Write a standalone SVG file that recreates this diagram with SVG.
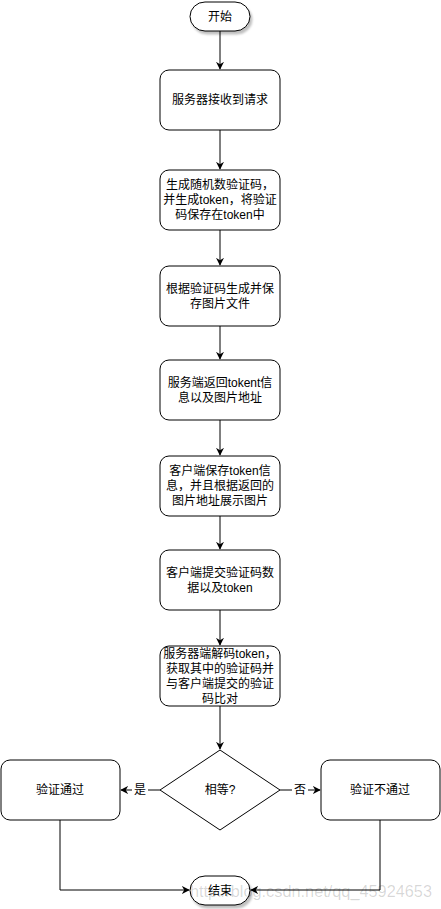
<svg xmlns="http://www.w3.org/2000/svg" width="441" height="909" viewBox="0 0 441 909">
<style>
.n{fill:#fff;stroke:#000;stroke-width:1}
.t{font-family:"Liberation Sans","Noto Sans CJK SC",sans-serif;font-size:12px;fill:#000;text-anchor:middle;dominant-baseline:central}
.e{fill:none;stroke:#000;stroke-width:1}
.wm{font-family:"Liberation Sans",sans-serif;font-size:17px;fill:#000;fill-opacity:0.16;dominant-baseline:central}
</style>
<defs>
<marker id="a" viewBox="0 0 10 10" refX="9" refY="5" markerWidth="8" markerHeight="8" orient="auto" markerUnits="userSpaceOnUse">
<path d="M0,0 L10,5 L0,10 L3,5 Z" fill="#000"/>
</marker>
<filter id="sh" x="-20%" y="-20%" width="150%" height="160%">
<feDropShadow dx="2" dy="3" stdDeviation="1" flood-color="#000" flood-opacity="0.25"/>
</filter>
</defs>
<rect width="441" height="909" fill="#fff"/>
<g id="edges">
<path class="e" d="M220,31 V69" marker-end="url(#a)"/>
<path class="e" d="M220,130 V169" marker-end="url(#a)"/>
<path class="e" d="M220,230 V265" marker-end="url(#a)"/>
<path class="e" d="M220,326 V359" marker-end="url(#a)"/>
<path class="e" d="M220,420 V455" marker-end="url(#a)"/>
<path class="e" d="M220,516 V549" marker-end="url(#a)"/>
<path class="e" d="M220,610 V645" marker-end="url(#a)"/>
<path class="e" d="M220,706 V749" marker-end="url(#a)"/>
<path class="e" d="M160,790 H121" marker-end="url(#a)"/>
<rect x="132" y="782" width="16" height="16" fill="#fff"/>
<text class="t" x="140" y="790">是</text>
<path class="e" d="M280,790 H320" marker-end="url(#a)"/>
<rect x="292" y="782" width="16" height="16" fill="#fff"/>
<text class="t" x="300" y="790">否</text>
<path class="e" d="M60,820 V890 H189" marker-end="url(#a)"/>
<path class="e" d="M380,820 V890 H251" marker-end="url(#a)"/>
</g>
<g id="start">
<rect class="n" x="190" y="2" width="60" height="29" rx="15" ry="14.5" filter="url(#sh)"/>
<text class="t" x="220" y="16.5">开始</text>
</g>
<g id="n1">
<rect class="n" x="160" y="70" width="120" height="60" rx="9"/>
<text class="t" x="220" y="100">服务器接收到请求</text>
</g>
<g id="n2">
<rect class="n" x="160" y="170" width="120" height="60" rx="9"/>
<text class="t" x="220" y="185">生成随机数验证码，</text>
<text class="t" x="220" y="200">并生成token，将验证</text>
<text class="t" x="220" y="215">码保存在token中</text>
</g>
<g id="n3">
<rect class="n" x="160" y="266" width="120" height="60" rx="9"/>
<text class="t" x="220" y="288.5">根据验证码生成并保</text>
<text class="t" x="220" y="303.5">存图片文件</text>
</g>
<g id="n4">
<rect class="n" x="160" y="360" width="120" height="60" rx="9"/>
<text class="t" x="220" y="382.5">服务端返回tokent信</text>
<text class="t" x="220" y="397.5">息以及图片地址</text>
</g>
<g id="n5">
<rect class="n" x="160" y="456" width="120" height="60" rx="9"/>
<text class="t" x="220" y="471">客户端保存token信</text>
<text class="t" x="220" y="486">息，并且根据返回的</text>
<text class="t" x="220" y="501">图片地址展示图片</text>
</g>
<g id="n6">
<rect class="n" x="160" y="550" width="120" height="60" rx="9"/>
<text class="t" x="220" y="572.5">客户端提交验证码数</text>
<text class="t" x="220" y="587.5">据以及token</text>
</g>
<g id="n7">
<rect class="n" x="160" y="646" width="120" height="60" rx="9"/>
<text class="t" x="220" y="653.5">服务器端解码token，</text>
<text class="t" x="220" y="668.5">获取其中的验证码并</text>
<text class="t" x="220" y="683.5">与客户端提交的验证</text>
<text class="t" x="220" y="698.5">码比对</text>
</g>
<g id="decision">
<path class="n" d="M220,750 L280,790 L220,830 L160,790 Z"/>
<text class="t" x="220" y="790">相等?</text>
</g>
<g id="pass">
<rect class="n" x="1" y="760" width="119" height="60" rx="9"/>
<text class="t" x="60" y="790">验证通过</text>
</g>
<g id="fail">
<rect class="n" x="321" y="760" width="119" height="60" rx="9"/>
<text class="t" x="380" y="790">验证不通过</text>
</g>
<g id="end">
<rect class="n" x="190" y="876" width="60" height="29" rx="15" ry="14.5" filter="url(#sh)"/>
<text class="t" x="220" y="890.5">结束</text>
</g>
<text class="wm" x="190" y="891" textLength="242" lengthAdjust="spacingAndGlyphs">http://blog.csdn.net/qq_45924653</text>
</svg>
